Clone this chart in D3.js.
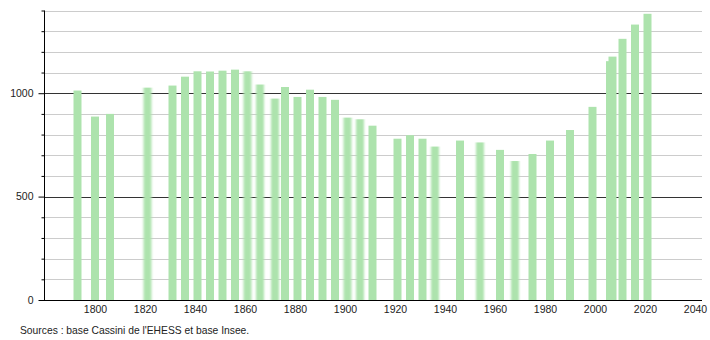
<!DOCTYPE html>
<html>
<head>
<meta charset="utf-8">
<script src="https://cdn.jsdelivr.net/npm/d3@7"></script>
<style>
  body { margin: 0; background: #fff; }
  text { font-family: "Liberation Sans", Arial, sans-serif; fill: #222; }
</style>
</head>
<body>
<div id="chart"></div>
<script>
// population figures
var years = [1793, 1800, 1806, 1821, 1831, 1836, 1841, 1846, 1851, 1856,
             1861, 1866, 1872, 1876, 1881, 1886, 1891, 1896, 1901, 1906,
             1911, 1921, 1926, 1931, 1936, 1946, 1954, 1962, 1968, 1975,
             1982, 1990, 1999, 2006, 2007, 2011, 2016, 2021];
var population = [1013, 887, 900, 1027, 1037, 1080, 1106, 1105, 1109, 1114,
                  1106, 1042, 974, 1030, 982, 1017, 982, 968, 882, 874,
                  843, 780, 797, 780, 742, 771, 762, 726, 672, 706,
                  771, 822, 934, 1155, 1177, 1263, 1332, 1384];
var yTicks = [0, 500, 1000];
var xTicks = [1800, 1820, 1840, 1860, 1880, 1900, 1920, 1940, 1960, 1980, 2000, 2020, 2040];
// bars that look smeared in the original
var softYears = [1821, 1861, 1866, 1872, 1901, 1906, 1936, 1954, 1968];
var source = "Sources : base Cassini de l'EHESS et base Insee.";

var width = 710, height = 340;

var svg = d3.select("#chart")
    .append("svg")
    .attr("width", width)
    .attr("height", height);

var defs = svg.append("defs");
defs.append("filter")
    .attr("id", "soft")
    .attr("x", "-50%").attr("width", "200%")
    .append("feGaussianBlur")
    .attr("stdDeviation", "1.3 0.4");

var xScale = d3.scaleLinear().domain([1779.6, 2042]).range([44, 700]);
var yScale = d3.scaleLinear().domain([0, 1400]).range([300, 10.5]);

//grid lines every 100
var grid = d3.range(100, 1401, 100);
svg.append("g").selectAll("line")
    .data(grid)
    .enter().append("line")
    .attr("x1", 44)
    .attr("x2", 702)
    .attr("y1", function (d) { return Math.round(yScale(d)) + 0.5; })
    .attr("y2", function (d) { return Math.round(yScale(d)) + 0.5; })
    .attr("stroke", function (d) { return d % 500 === 0 ? "#333" : "#cccccc"; })
    .attr("stroke-width", 1);

//bars
var barW = 8;
svg.append("g").selectAll("rect")
    .data(years)
    .enter().append("rect")
    .attr("x", function (d) { return xScale(d) - barW / 2; })
    .attr("width", barW)
    .attr("y", function (d, i) { return yScale(population[i]); })
    .attr("height", function (d, i) { return yScale(0) - yScale(population[i]); })
    .attr("fill", "#ade3ad")
    .attr("filter", function (d) { return softYears.indexOf(d) >= 0 ? "url(#soft)" : null; });

//y axis
var yAxis = d3.axisLeft(yScale)
    .tickValues(d3.range(0, 1401, 100))
    .tickSize(3)
    .tickFormat(function (d) { return yTicks.indexOf(d) >= 0 ? d : ""; });

var yG = svg.append("g")
    .attr("transform", "translate(44.5,0)")
    .call(yAxis);
yG.select(".domain").remove();
yG.selectAll(".tick line")
    .attr("x2", function (d) { return yTicks.indexOf(d) >= 0 ? -6 : -3; })
    .attr("stroke", "#000");
yG.selectAll(".tick text")
    .attr("x", -11)
    .style("font-size", "10.5px")
    .style("font-family", "'Liberation Sans', Arial, sans-serif")
    .attr("fill", "#222");
yG.append("line")
    .attr("x1", 0).attr("x2", 0)
    .attr("y1", yScale(1400)).attr("y2", yScale(0))
    .attr("stroke", "#000");

//x axis
var xAxis = d3.axisBottom(xScale)
    .tickValues(xTicks)
    .tickSize(0)
    .tickPadding(5)
    .tickFormat(d3.format("d"));

var xG = svg.append("g")
    .attr("transform", "translate(0,300.5)")
    .call(xAxis);
xG.select(".domain").remove();
xG.selectAll(".tick text")
    .style("font-size", "10.5px")
    .style("font-family", "'Liberation Sans', Arial, sans-serif")
    .attr("fill", "#222");
xG.append("line")
    .attr("x1", 39).attr("x2", 702)
    .attr("stroke", "#000");

//source note
svg.append("text")
    .attr("x", 20)
    .attr("y", 334)
    .style("font-size", "10.3px")
    .text(source);
</script>
</body>
</html>
